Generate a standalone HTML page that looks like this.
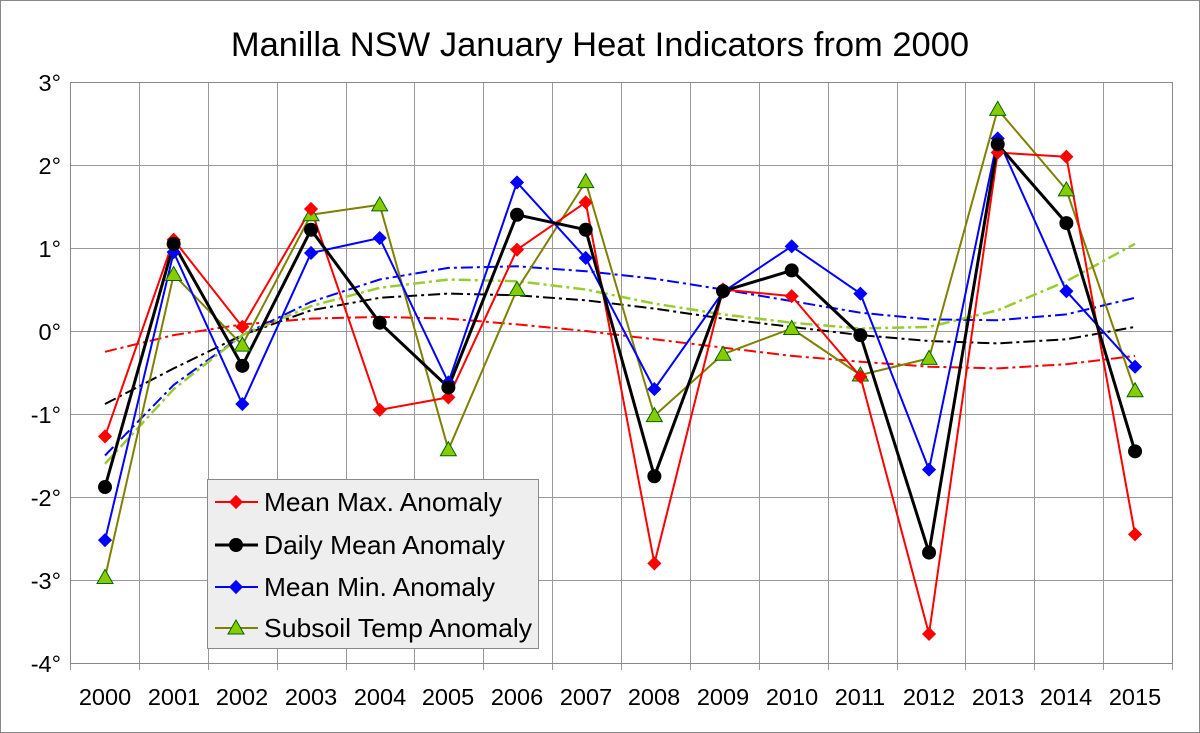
<!DOCTYPE html>
<html><head><meta charset="utf-8"><style>
html,body{margin:0;padding:0;background:#fff}
svg{display:block;font-family:"Liberation Sans",Arial,sans-serif}
</style></head><body>
<svg id="s" width="1200" height="733" viewBox="0 0 1200 733" xmlns="http://www.w3.org/2000/svg">
<rect x="0.5" y="0.5" width="1199" height="732" fill="#fff" stroke="#888"/>
<text x="600" y="56" font-size="34.5" text-anchor="middle">Manilla NSW January Heat Indicators from 2000</text>
<g id="grid" stroke="#999" stroke-width="1"></g>
<rect x="70.5" y="82.5" width="1102" height="581" fill="none" stroke="#888"/>
<g font-size="23.5" text-anchor="end">
<text x="61" y="91">3°</text><text x="61" y="174">2°</text><text x="61" y="257">1°</text><text x="61" y="340">0°</text><text x="61" y="423">-1°</text><text x="61" y="506">-2°</text><text x="61" y="589">-3°</text><text x="61" y="672">-4°</text>
</g>
<g font-size="23.5" text-anchor="middle">
<text x="105" y="705">2000</text><text x="174" y="705">2001</text><text x="242" y="705">2002</text><text x="311" y="705">2003</text><text x="380" y="705">2004</text><text x="448" y="705">2005</text><text x="517" y="705">2006</text><text x="586" y="705">2007</text><text x="654" y="705">2008</text><text x="723" y="705">2009</text><text x="792" y="705">2010</text><text x="860" y="705">2011</text><text x="929" y="705">2012</text><text x="998" y="705">2013</text><text x="1066" y="705">2014</text><text x="1135" y="705">2015</text>
</g>
<g id="data"></g>
<rect x="207.5" y="479.5" width="331" height="169" fill="#eeeeee" stroke="#888"/>
<g font-size="26">
<line x1="215" y1="502" x2="258" y2="502" stroke="#f00" stroke-width="2"/><rect x="231" y="497" width="10" height="10" fill="#f00" transform="rotate(45 236 502)"/>
<text x="264" y="511" textLength="238" lengthAdjust="spacingAndGlyphs">Mean Max. Anomaly</text>
<line x1="215" y1="545" x2="258" y2="545" stroke="#000" stroke-width="3"/><circle cx="236" cy="545" r="7" fill="#000"/>
<text x="264" y="554" textLength="241" lengthAdjust="spacingAndGlyphs">Daily Mean Anomaly</text>
<line x1="215" y1="587" x2="258" y2="587" stroke="#00f" stroke-width="2"/><rect x="231" y="582" width="10" height="10" fill="#00f" transform="rotate(45 236 587)"/>
<text x="264" y="596" textLength="231" lengthAdjust="spacingAndGlyphs">Mean Min. Anomaly</text>
<line x1="215" y1="628" x2="258" y2="628" stroke="#808000" stroke-width="2"/><polygon points="236,620 244,634 228,634" fill="#8c0" stroke="#060"/>
<text x="264" y="637" textLength="268" lengthAdjust="spacingAndGlyphs">Subsoil Temp Anomaly</text>
</g>
</svg>
<script>
var NS="http://www.w3.org/2000/svg";
function X(i){return 105+68.67*i}function Y(v){return 331-83*v}
var g=document.getElementById('grid');
function L(p,x1,y1,x2,y2,a){var l=document.createElementNS(NS,'line');l.setAttribute('x1',x1);l.setAttribute('y1',y1);l.setAttribute('x2',x2);l.setAttribute('y2',y2);if(a)for(var k in a)l.setAttribute(k,a[k]);p.appendChild(l);}
for(var v=2;v>=-3;v--)L(g,70,Y(v)+.5,1172,Y(v)+.5);
for(var i=1;i<16;i++){var x=Math.round(70+68.875*i)+.5;L(g,x,82,x,663);L(g,x,663,x,670);}
L(g,70.5,663,70.5,670);L(g,1172.5,663,1172.5,670);
var d=document.getElementById('data');
function poly(vals,col,w,dash){var p=document.createElementNS(NS,'polyline');var s=vals.map(function(v,i){return X(i).toFixed(1)+','+Y(v).toFixed(1)}).join(' ');p.setAttribute('points',s);p.setAttribute('fill','none');p.setAttribute('stroke',col);p.setAttribute('stroke-width',w);p.setAttribute('stroke-linejoin','round');if(dash)p.setAttribute('stroke-dasharray',dash);d.appendChild(p);}
function el(t,a){var e=document.createElementNS(NS,t);for(var k in a)e.setAttribute(k,a[k]);d.appendChild(e);}
var tr={r:[-0.25,-0.05,0.08,0.15,0.17,0.15,0.08,0,-0.1,-0.2,-0.3,-0.37,-0.43,-0.45,-0.4,-0.3],
k:[-0.88,-0.45,-0.05,0.25,0.4,0.45,0.43,0.37,0.27,0.15,0.05,-0.05,-0.12,-0.15,-0.1,0.05],
b:[-1.5,-0.65,-0.05,0.35,0.62,0.76,0.78,0.72,0.63,0.5,0.36,0.22,0.14,0.13,0.2,0.4],
o:[-1.6,-0.7,-0.05,0.3,0.52,0.62,0.6,0.5,0.33,0.2,0.1,0.03,0.05,0.25,0.6,1.05]};
poly(tr.r,'#f00',2,'12,4,3,4');poly(tr.k,'#000',2,'12,4,3,4');poly(tr.b,'#00f',2,'12,4,3,4');poly(tr.o,'#9c3',2.5,'12,4,3,4');
var R=[-1.27,1.1,0.05,1.47,-0.95,-0.8,0.98,1.55,-2.8,0.5,0.42,-0.55,-3.65,2.15,2.1,-2.45];
var K=[-1.88,1.05,-0.42,1.22,0.1,-0.68,1.4,1.22,-1.75,0.48,0.73,-0.05,-2.67,2.25,1.3,-1.45];
var B=[-2.52,0.95,-0.88,0.94,1.12,-0.62,1.79,0.88,-0.7,0.47,1.02,0.45,-1.67,2.32,0.48,-0.43];
var O=[-2.97,0.68,-0.17,1.4,1.52,-1.43,0.5,1.8,-1.02,-0.28,0.03,-0.53,-0.33,2.67,1.7,-0.72];
poly(O,'#808000',2);poly(B,'#00f',2);poly(R,'#f00',2);poly(K,'#000',3);
O.forEach(function(v,i){var x=X(i),y=Y(v);el('polygon',{points:x+','+(y-8)+' '+(x+8)+','+(y+6)+' '+(x-8)+','+(y+6),fill:'#8c0',stroke:'#060'});});
B.forEach(function(v,i){el('rect',{x:X(i)-5,y:Y(v)-5,width:10,height:10,fill:'#00f',transform:'rotate(45 '+X(i)+' '+Y(v)+')'});});
R.forEach(function(v,i){el('rect',{x:X(i)-5,y:Y(v)-5,width:10,height:10,fill:'#f00',transform:'rotate(45 '+X(i)+' '+Y(v)+')'});});
K.forEach(function(v,i){el('circle',{cx:X(i),cy:Y(v),r:7,fill:'#000'});});
</script>
</body></html>
